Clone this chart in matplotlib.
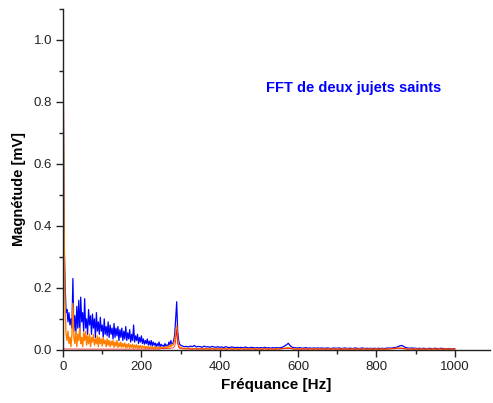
import numpy as np
import matplotlib
matplotlib.use('Agg')
import matplotlib.pyplot as plt
from matplotlib.ticker import MultipleLocator, FormatStrFormatter

plt.rcParams['font.family'] = ['Liberation Sans', 'DejaVu Sans']

### DATA ###

# FFT bins: 2.5 Hz below 300 Hz, 5 Hz from 300 Hz to 1000 Hz
df_low = 2.5
f_split = 300.0
df_high = 5.0

blue_low = [
    1.00, 0.35, 0.22, 0.12, 0.13, 0.09, 0.12, 0.08, 0.10, 0.07,
    0.23, 0.06, 0.11, 0.05, 0.14, 0.07, 0.16, 0.05, 0.17, 0.09,
    0.12, 0.06, 0.165, 0.07, 0.10, 0.05, 0.13, 0.08, 0.11, 0.05,
    0.115, 0.07, 0.10, 0.04, 0.12, 0.06, 0.09, 0.05, 0.105, 0.06,
    0.08, 0.04, 0.10, 0.05, 0.075, 0.045, 0.09, 0.04, 0.08, 0.05,
    0.07, 0.035, 0.085, 0.04, 0.07, 0.045, 0.075, 0.03, 0.065, 0.04,
    0.07, 0.03, 0.06, 0.035, 0.075, 0.03, 0.055, 0.035, 0.065, 0.025,
    0.05, 0.03, 0.08, 0.025, 0.045, 0.03, 0.05, 0.02, 0.04, 0.025,
    0.045, 0.02, 0.035, 0.018, 0.03, 0.02, 0.035, 0.015, 0.028, 0.015,
    0.03, 0.012, 0.025, 0.015, 0.022, 0.01, 0.02, 0.012, 0.025, 0.01,
    0.018, 0.012, 0.015, 0.01, 0.02, 0.012, 0.016, 0.01, 0.025, 0.015,
    0.03, 0.018, 0.02, 0.03, 0.05, 0.10, 0.155, 0.06, 0.03, 0.018,
]

blue_high = [
    0.015, 0.012, 0.01, 0.011, 0.009, 0.012, 0.01, 0.014, 0.009, 0.011,
    0.01, 0.008, 0.012, 0.009, 0.01, 0.008, 0.011, 0.009, 0.008, 0.01,
    0.008, 0.009, 0.007, 0.01, 0.008, 0.007, 0.009, 0.008, 0.007, 0.008,
    0.007, 0.008, 0.006, 0.009, 0.007, 0.006, 0.008, 0.007, 0.006, 0.007,
    0.006, 0.007, 0.006, 0.008, 0.006, 0.007, 0.005, 0.007, 0.006, 0.007,
    0.006, 0.007, 0.008, 0.012, 0.016, 0.021, 0.013, 0.008, 0.007, 0.006,
    0.006, 0.007, 0.005, 0.006, 0.007, 0.005, 0.006, 0.005, 0.006, 0.005,
    0.006, 0.005, 0.006, 0.005, 0.005, 0.006, 0.005, 0.004, 0.006, 0.005,
    0.005, 0.006, 0.004, 0.005, 0.006, 0.004, 0.005, 0.005, 0.004, 0.006,
    0.005, 0.004, 0.005, 0.006, 0.004, 0.005, 0.004, 0.005, 0.004, 0.005,
    0.004, 0.005, 0.004, 0.005, 0.004, 0.005, 0.006, 0.005, 0.006, 0.007,
    0.008, 0.01, 0.013, 0.014, 0.01, 0.007, 0.006, 0.005, 0.006, 0.005,
    0.005, 0.004, 0.005, 0.004, 0.005, 0.004, 0.004, 0.005, 0.004, 0.004,
    0.005, 0.004, 0.004, 0.005, 0.004, 0.004, 0.003, 0.004, 0.004, 0.003, 0.003,
]

orange_low = [
    1.00, 0.40, 0.15, 0.05, 0.03, 0.06, 0.02, 0.04, 0.01, 0.05,
    0.15, 0.04, 0.02, 0.06, 0.01, 0.05, 0.03, 0.07, 0.02, 0.04,
    0.01, 0.055, 0.03, 0.06, 0.015, 0.045, 0.02, 0.05, 0.01, 0.04,
    0.025, 0.05, 0.015, 0.035, 0.02, 0.045, 0.01, 0.04, 0.02, 0.035,
    0.012, 0.04, 0.02, 0.03, 0.01, 0.035, 0.015, 0.03, 0.01, 0.028,
    0.015, 0.03, 0.008, 0.025, 0.012, 0.03, 0.008, 0.022, 0.01, 0.025,
    0.008, 0.02, 0.01, 0.022, 0.006, 0.018, 0.008, 0.02, 0.006, 0.016,
    0.008, 0.018, 0.005, 0.015, 0.007, 0.016, 0.005, 0.013, 0.006, 0.014,
    0.005, 0.012, 0.006, 0.012, 0.004, 0.011, 0.005, 0.01, 0.004, 0.01,
    0.005, 0.009, 0.004, 0.01, 0.004, 0.008, 0.005, 0.009, 0.004, 0.008,
    0.005, 0.009, 0.004, 0.008, 0.006, 0.01, 0.005, 0.012, 0.008, 0.015,
    0.01, 0.018, 0.015, 0.02, 0.03, 0.055, 0.078, 0.035, 0.015, 0.008,
]

orange_high = [
    0.008, 0.005, 0.004, 0.005, 0.004, 0.005, 0.003, 0.004, 0.003, 0.004,
    0.003, 0.004, 0.003, 0.004, 0.003, 0.003, 0.004, 0.003, 0.003, 0.004,
    0.003, 0.003, 0.004, 0.003, 0.003, 0.004, 0.003, 0.003, 0.004, 0.003,
    0.003, 0.004, 0.003, 0.003, 0.002, 0.003, 0.004, 0.003, 0.002, 0.003,
    0.003, 0.002, 0.003, 0.004, 0.003, 0.002, 0.003, 0.003, 0.002, 0.003,
    0.003, 0.003, 0.004, 0.005, 0.006, 0.007, 0.005, 0.004, 0.003, 0.003,
    0.002, 0.003, 0.003, 0.002, 0.003, 0.002, 0.003, 0.003, 0.002, 0.003,
    0.002, 0.003, 0.002, 0.003, 0.002, 0.002, 0.003, 0.002, 0.003, 0.002,
    0.003, 0.002, 0.002, 0.003, 0.002, 0.003, 0.002, 0.002, 0.003, 0.002,
    0.002, 0.003, 0.002, 0.002, 0.003, 0.002, 0.002, 0.003, 0.002, 0.002,
    0.003, 0.002, 0.002, 0.003, 0.002, 0.002, 0.003, 0.003, 0.004, 0.004,
    0.005, 0.006, 0.006, 0.005, 0.004, 0.003, 0.002, 0.003, 0.002, 0.002,
    0.003, 0.002, 0.002, 0.003, 0.002, 0.002, 0.003, 0.002, 0.002, 0.003,
    0.002, 0.002, 0.003, 0.002, 0.002, 0.003, 0.002, 0.002, 0.003, 0.002, 0.002,
]

red_low = [
    0.004, 0.003, 0.003, 0.002, 0.003, 0.003, 0.002, 0.003, 0.003, 0.002,
    0.003, 0.002, 0.003, 0.003, 0.002, 0.003, 0.002, 0.003, 0.002, 0.003,
    0.002, 0.003, 0.002, 0.002, 0.003, 0.002, 0.003, 0.002, 0.002, 0.003,
    0.002, 0.002, 0.003, 0.002, 0.002, 0.003, 0.002, 0.002, 0.003, 0.002,
    0.002, 0.003, 0.002, 0.002, 0.003, 0.002, 0.002, 0.003, 0.002, 0.003,
    0.002, 0.003, 0.002, 0.002, 0.003, 0.002, 0.003, 0.002, 0.002, 0.003,
    0.002, 0.002, 0.003, 0.002, 0.002, 0.003, 0.002, 0.002, 0.003, 0.002,
    0.002, 0.003, 0.002, 0.002, 0.003, 0.002, 0.002, 0.003, 0.002, 0.002,
    0.003, 0.002, 0.002, 0.003, 0.002, 0.002, 0.003, 0.002, 0.002, 0.003,
    0.002, 0.003, 0.002, 0.002, 0.003, 0.002, 0.002, 0.003, 0.002, 0.003,
    0.003, 0.004, 0.003, 0.004, 0.003, 0.004, 0.004, 0.005, 0.004, 0.005,
    0.005, 0.006, 0.006, 0.008, 0.012, 0.03, 0.065, 0.02, 0.008, 0.005,
]

red_high = [
    0.004, 0.003, 0.003, 0.002, 0.003, 0.002, 0.002, 0.003, 0.002, 0.002,
    0.003, 0.002, 0.002, 0.003, 0.002, 0.002, 0.003, 0.002, 0.002, 0.003,
    0.002, 0.002, 0.003, 0.002, 0.002, 0.003, 0.002, 0.002, 0.003, 0.002,
    0.002, 0.003, 0.002, 0.002, 0.003, 0.002, 0.002, 0.003, 0.002, 0.002,
    0.003, 0.002, 0.002, 0.003, 0.002, 0.002, 0.003, 0.002, 0.002, 0.003,
    0.002, 0.003, 0.003, 0.004, 0.004, 0.005, 0.004, 0.003, 0.002, 0.002,
    0.003, 0.002, 0.002, 0.003, 0.002, 0.002, 0.003, 0.002, 0.002, 0.003,
    0.002, 0.002, 0.003, 0.002, 0.002, 0.003, 0.002, 0.002, 0.003, 0.002,
    0.002, 0.003, 0.002, 0.002, 0.003, 0.002, 0.002, 0.003, 0.002, 0.002,
    0.003, 0.002, 0.002, 0.003, 0.002, 0.002, 0.003, 0.002, 0.002, 0.003,
    0.002, 0.002, 0.003, 0.002, 0.002, 0.003, 0.002, 0.003, 0.003, 0.004,
    0.004, 0.005, 0.005, 0.004, 0.003, 0.003, 0.002, 0.002, 0.003, 0.002,
    0.002, 0.003, 0.002, 0.002, 0.003, 0.002, 0.002, 0.003, 0.002, 0.002,
    0.003, 0.002, 0.002, 0.003, 0.002, 0.002, 0.003, 0.002, 0.002, 0.003, 0.003,
]

freq = np.concatenate([np.arange(len(blue_low)) * df_low,
                       f_split + np.arange(len(blue_high)) * df_high])
blue = blue_low + blue_high
orange = orange_low + orange_high
red = red_low + red_high

title_text = 'FFT de deux jujets saints'


### PLOTTING ###

fig = plt.figure(figsize=(4.93, 4.03), dpi=100)
ax = fig.add_axes([0.128, 0.132, 0.866, 0.846])

ax.plot(freq, blue, color='#0000ff', lw=0.9)
ax.plot(freq, orange, color='#ff8000', lw=1.0)
ax.plot(freq, red, color='#ff0000', lw=0.5)

ax.set_xlim(0, 1090)
ax.set_ylim(0, 1.1)

ax.spines['top'].set_visible(False)
ax.spines['right'].set_visible(False)
for s in ['left', 'bottom']:
    ax.spines[s].set_color('#222222')
    ax.spines[s].set_linewidth(1.0)

ax.xaxis.set_major_locator(MultipleLocator(200))
ax.xaxis.set_minor_locator(MultipleLocator(100))
ax.yaxis.set_major_locator(MultipleLocator(0.2))
ax.yaxis.set_minor_locator(MultipleLocator(0.1))
ax.yaxis.set_major_formatter(FormatStrFormatter('%.1f'))
ax.tick_params(which='major', direction='out', length=5, width=1, labelsize=9.5,
               colors='#222222', pad=3)
ax.tick_params(which='minor', direction='out', length=3, width=1, colors='#222222')

ax.set_xlabel('Fréquance [Hz]', fontsize=11, fontweight='bold', labelpad=4)
ax.set_ylabel('Magnétude [mV]', fontsize=10.5, fontweight='bold')
ax.yaxis.set_label_coords(-0.088, 0.471)

ax.text(742, 0.845, title_text, color='#0000ff', fontsize=10.5, fontweight='bold',
        ha='center', va='center')

plt.savefig('out.png', dpi=100)
